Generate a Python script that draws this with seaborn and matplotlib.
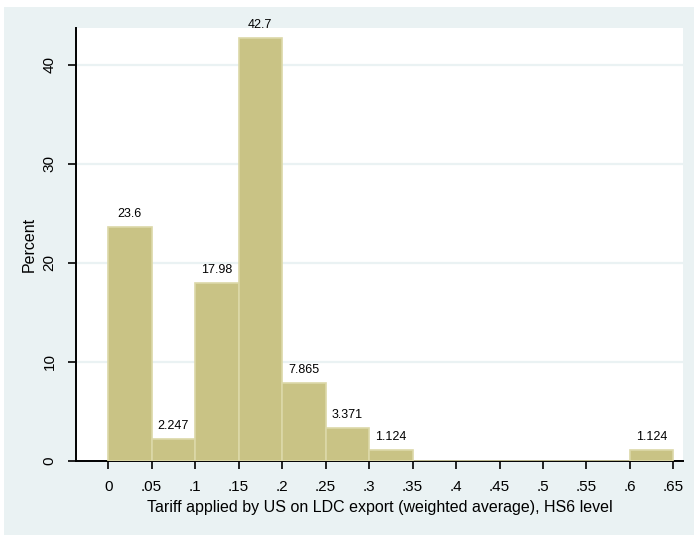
import matplotlib
matplotlib.use("Agg")
import matplotlib.pyplot as plt
import numpy as np
import pandas as pd
import seaborn as sns
from matplotlib.patches import Rectangle

# histogram of tariffs, bins of width .05
bin_left = [0.00, 0.05, 0.10, 0.15, 0.20, 0.25, 0.30, 0.35, 0.40, 0.45, 0.50, 0.55, 0.60]
percent = [23.6, 2.247, 17.98, 42.7, 7.865, 3.371, 1.124, 0, 0, 0, 0, 0, 1.124]
bar_text = ["23.6", "2.247", "17.98", "42.7", "7.865", "3.371", "1.124", "", "", "", "", "", "1.124"]
xtick_vals = [0, 0.05, 0.1, 0.15, 0.2, 0.25, 0.3, 0.35, 0.4, 0.45, 0.5, 0.55, 0.6, 0.65]
xtick_text = ["0", ".05", ".1", ".15", ".2", ".25", ".3", ".35", ".4", ".45", ".5", ".55", ".6", ".65"]
ytick_vals = [0, 10, 20, 30, 40]

bg = "#EAF2F3"
bar_color = "#C9C385"
edge_color = "#DCD8A8"

sns.set_style("white")
plt.rcParams["font.family"] = ["Liberation Sans", "DejaVu Sans"]
plt.rcParams["text.color"] = "black"
plt.rcParams["axes.labelcolor"] = "black"
plt.rcParams["xtick.color"] = "black"
plt.rcParams["ytick.color"] = "black"

fig = plt.figure(figsize=(6.94, 5.35), dpi=100, facecolor="white")
fig.patches.append(Rectangle((4 / 694, 0), 1, 528 / 535, transform=fig.transFigure,
                             facecolor=bg, edgecolor="none", zorder=-10))
ax = fig.add_axes([76 / 694, 74 / 535, 607 / 694, 433 / 535])

df = pd.DataFrame({"tariff": np.array(bin_left) + 0.025, "pct": percent})
sns.histplot(data=df, x="tariff", weights="pct", binwidth=0.05, binrange=(0, 0.65),
             ax=ax, stat="count", color=bar_color, edgecolor=edge_color,
             linewidth=1.2, alpha=1, zorder=3)

for container in ax.containers:
    ax.bar_label(container, labels=bar_text, padding=5, fontsize=9, zorder=4)

ax.set_xlim(-0.037, 0.661)
ax.set_ylim(0, 43.7)
ax.set_xticks(xtick_vals)
ax.set_xticklabels(xtick_text)
ax.set_yticks(ytick_vals)
ax.set_yticklabels([str(v) for v in ytick_vals], rotation=90, va="center")
for v in ytick_vals[1:]:
    ax.axhline(v, color=bg, linewidth=1.6, zorder=1)

ax.set_xlabel("Tariff applied by US on LDC export (weighted average), HS6 level", fontsize=11.5, labelpad=4)
ax.set_ylabel("Percent", fontsize=11.5, labelpad=4)
ax.tick_params(axis="both", direction="out", length=6, width=1.2, color="black",
               labelsize=11, pad=8, bottom=True, left=True)

for s in ["top", "right"]:
    ax.spines[s].set_visible(False)
for s in ["left", "bottom"]:
    ax.spines[s].set_color("black")
    ax.spines[s].set_linewidth(1.4)
ax.patch.set_facecolor("white")
for t in ax.texts:
    t.set_clip_on(False)

fig.savefig("out.png", dpi=100, facecolor=fig.get_facecolor())
